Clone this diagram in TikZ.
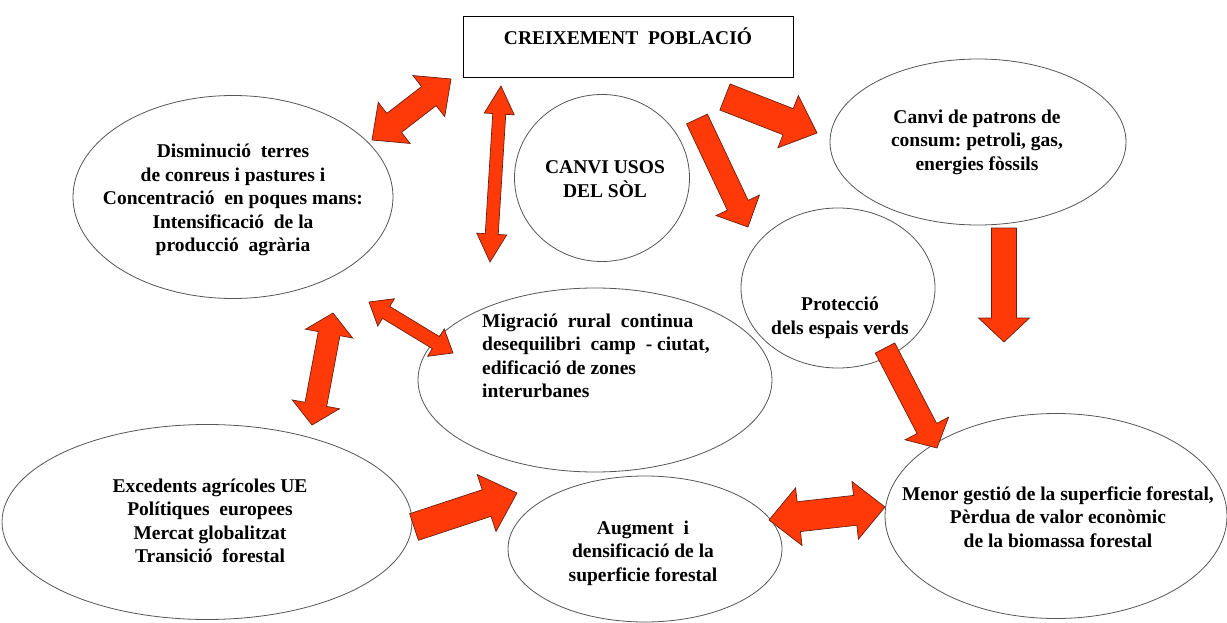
\documentclass[tikz,border=0pt]{standalone}
\usepackage{fontspec}
\setmainfont{Liberation Serif}
\usetikzlibrary{shapes.geometric,calc}
\definecolor{arrowred}{RGB}{255,58,8}
\definecolor{arrowline}{RGB}{105,30,15}
\definecolor{ovalline}{RGB}{85,85,85}
\tikzset{
	oval/.style={ellipse,draw=ovalline,line width=.8pt,inner sep=0pt},
	txt/.style={font=\fontsize{19.5}{23.5}\selectfont\bfseries,align=center,inner sep=0pt},
	fat/.style={fill=arrowred,draw=arrowline,line width=.7pt,line join=miter}
}
\newcommand{\blockone}[5]{%
	\path ($(#2)!#5!(#1)$) coordinate (hd);
	\draw[fat] ($(#1)!#3!90:(#2)$) -- ($(hd)!#3!90:(#2)$) -- ($(hd)!#4!90:(#2)$) -- (#2)
		-- ($(hd)!#4!-90:(#2)$) -- ($(hd)!#3!-90:(#2)$) -- ($(#1)!#3!-90:(#2)$) -- cycle;}
\newcommand{\blocktwo}[5]{%
	\path ($(#1)!#5!(#2)$) coordinate (hda) ($(#2)!#5!(#1)$) coordinate (hdb);
	\draw[fat] (#1) -- ($(hda)!#4!90:(#2)$) -- ($(hda)!#3!90:(#2)$) -- ($(hdb)!#3!90:(#2)$) -- ($(hdb)!#4!90:(#2)$) -- (#2)
		-- ($(hdb)!#4!-90:(#2)$) -- ($(hdb)!#3!-90:(#2)$) -- ($(hda)!#3!-90:(#2)$) -- ($(hda)!#4!-90:(#2)$) -- cycle;}
\begin{document}
\begin{tikzpicture}[x=1pt,y=-1pt]
		\useasboundingbox (0,0) rectangle (1227,623);
		
		\node[draw,line width=.9pt,minimum width=330pt,minimum height=61pt,inner sep=0pt] (popbox) at (628,46.5) {};
		\node[txt] (pop) at (628,36) {CREIXEMENT\ \ POBLACIÓ};
		
		\node[oval,minimum width=320pt,minimum height=203pt] (dism) at (233,197) {};
		\node[txt] (dismtext) at (233,200) {Disminució\ \ terres\\de conreus i pastures i\\Concentració\ \ en poques mans:\\Intensificació\ \ de la\\producció\ \ agrària};
		\node[oval,minimum width=175pt,minimum height=167pt] (usos) at (602,178) {};
		\node[txt] (usostext) at (605,179) {CANVI USOS\\DEL SÒL};
		\node[oval,minimum width=296pt,minimum height=166pt] (cons) at (978,142) {};
		\node[txt] (constext) at (977,142) {Canvi de patrons de\\consum:\ petroli, gas,\\energies fòssils};
		\node[oval,minimum width=194pt,minimum height=160pt] (prot) at (838,288) {};
		\node[txt] (prottext) at (840,318) {Protecció\\dels espais verds};
		\node[oval,minimum width=354pt,minimum height=184pt] (migr) at (595,380) {};
		\node[txt,align=left,anchor=west] (migrtext) at (482,356) {Migració\ \ rural\ \ continua\\desequilibri\ \ camp\ \ - ciutat,\\edificació de zones\\interurbanes};
		\node[oval,minimum width=410pt,minimum height=195pt] (exce) at (207,522) {};
		\node[txt] (excetext) at (210,521) {Excedents agrícoles UE\\Polítiques\ \ europees\\Mercat globalitzat\\Transició\ \ forestal};
		\node[oval,minimum width=274pt,minimum height=146pt] (augm) at (645,549) {};
		\node[txt] (augmtext) at (643,553) {Augment\ \ i\\densificació de la\\superficie forestal};
		\node[oval,minimum width=342pt,minimum height=205pt] (meno) at (1056,516) {};
		\node[txt] (menotext) at (1058,517) {Menor gestió de la superficie forestal,\\Pèrdua de valor econòmic\\de la biomassa forestal};
		
		\coordinate (a1) at (372,140); \coordinate (b1) at (451,79);
		\coordinate (a2) at (501,86); \coordinate (b2) at (490,262);
		\coordinate (a3) at (725,97); \coordinate (b3) at (817,133);
		\coordinate (a4) at (697,119); \coordinate (b4) at (748,227);
		\coordinate (a5) at (1004,228); \coordinate (b5) at (1004,342);
		\coordinate (a6) at (885,348); \coordinate (b6) at (937,448);
		\coordinate (a7) at (333,313); \coordinate (b7) at (312,425);
		\coordinate (a8) at (369,302); \coordinate (b8) at (453,353);
		\coordinate (a9) at (414,527); \coordinate (b9) at (517,493);
		\coordinate (a10) at (769,520); \coordinate (b10) at (885,507);
		
		\blocktwo{a1}{b1}{12pt}{26pt}{28pt}
		\blocktwo{a2}{b2}{6.5pt}{15pt}{28pt}
		\blockone{a3}{b3}{14pt}{28pt}{31pt}
		\blockone{a4}{b4}{11.5pt}{24pt}{24pt}
		\blockone{a5}{b5}{12.5pt}{25.5pt}{24pt}
		\blockone{a6}{b6}{11pt}{24.5pt}{22pt}
		\blocktwo{a7}{b7}{11pt}{24pt}{21pt}
		\blocktwo{a8}{b8}{7pt}{16pt}{20pt}
		\blockone{a9}{b9}{14pt}{30pt}{32pt}
		\blocktwo{a10}{b10}{15pt}{29pt}{30pt}
\end{tikzpicture}
\end{document}
